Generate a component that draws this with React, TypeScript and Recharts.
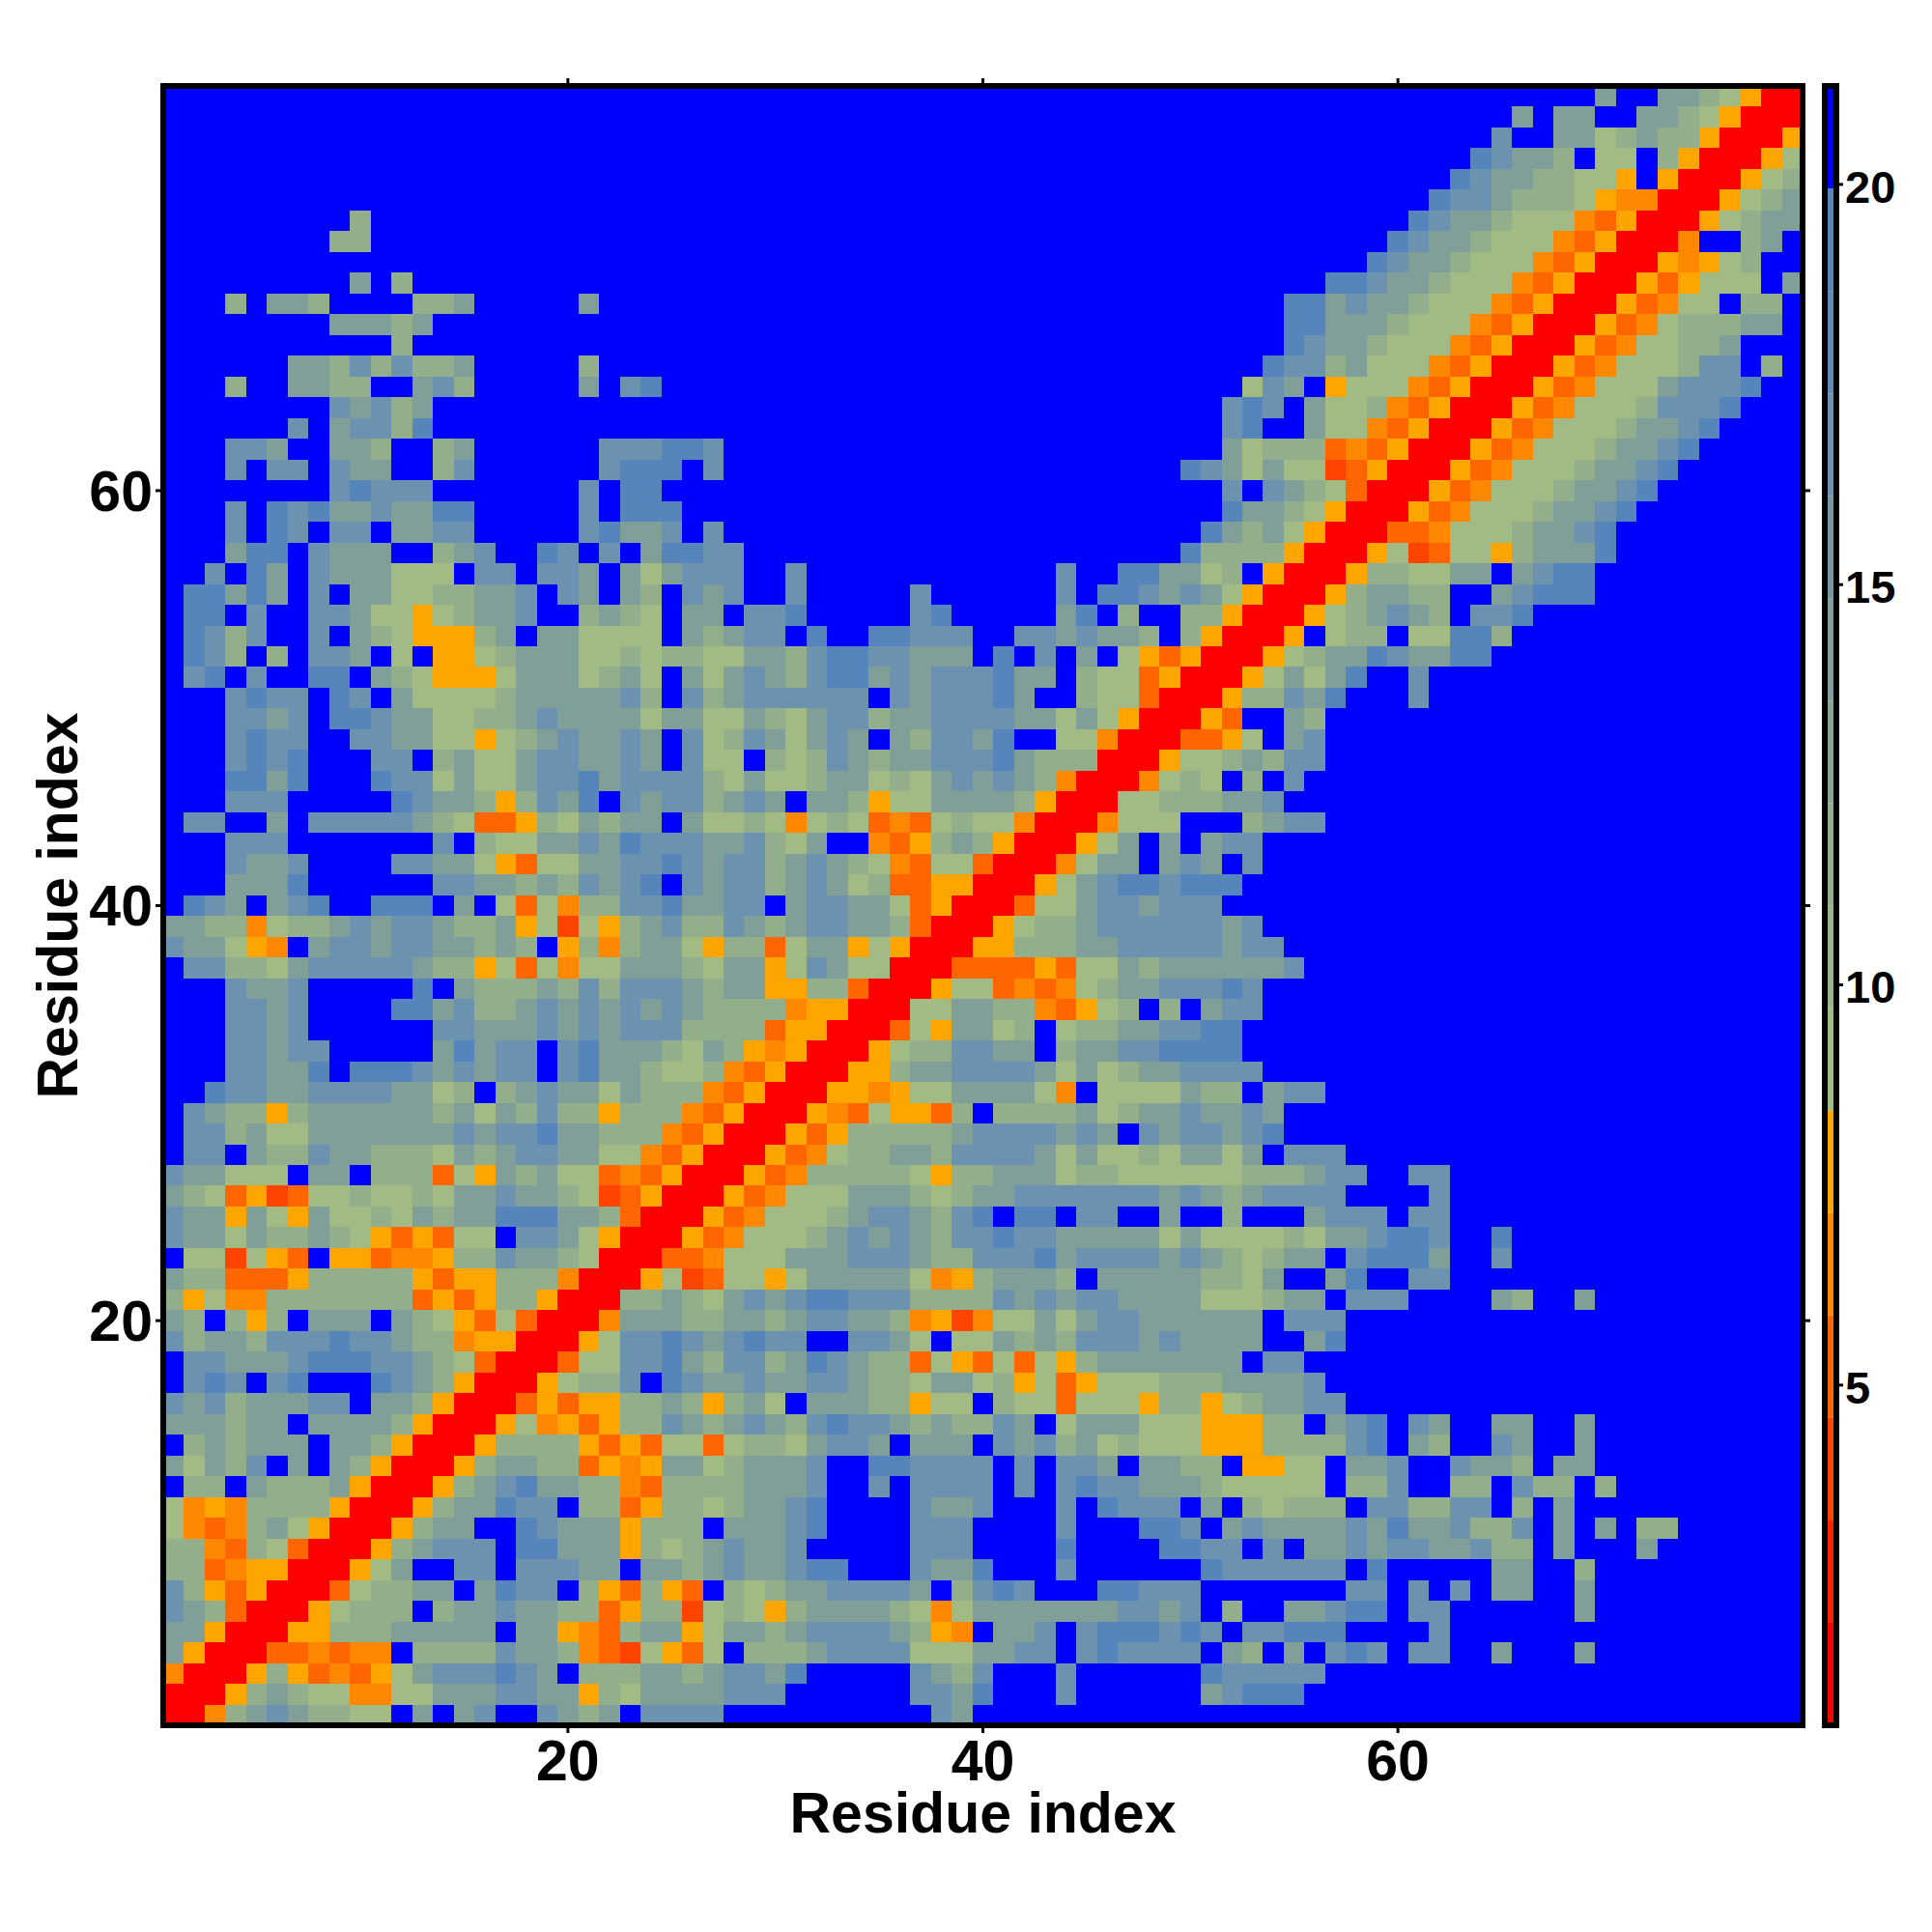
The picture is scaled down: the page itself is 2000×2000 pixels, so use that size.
import { Bar, BarChart, ReferenceArea, Scatter, ScatterChart, XAxis, YAxis } from 'recharts';

const FONT = '"Liberation Sans", Arial, sans-serif';

// one string per matrix row, residue 79 at the top down to residue 1
// '.' is out of range (blue), digits are distance classes, see codeValues
const rowsLeft = [
  '', '', '', '', '', '',
  '.........6',
  '........66',
  '',
  '.........7.6',
  '...6.776....667.....7',
  '........77767',
  '...........6',
  '......776868667.....6',
  '...6..7766..786.....7.89',
  '........87867',
  '......8.78869',
  '...887..776..67......88899',
  '...8.88.877..68......8999.',
  '........89888.......8.99',
  '...8.9897787799.....8.999.',
  '...8.98.88.7788.....89778.',
  '...799.8777..678..98.8.799',
  '..8.97.8777555.88.887.7578',
  '.99797.8.775566778.87.76.8',
  '.99.8..88755456778..6765.7',
  '.9868..8.76544467.775555.7',
  '.986.6.887.5.4456777556566',
  '.89.8..99.76544457775675.7',
  '...8988.98.7555567777786.8',
  '...8878.998775566787777577',
  '...8988..887755456787787.8',
  '...8989...88.67557887787.8',
  '...9979...9885755788978888',
  '...888.....9877646879.8788',
  '.88..7.88888765224657677.7',
  '...888.......8.65577879888',
  '...8778....887754255778898',
  '...7779......88776768789.8',
  '.987.789..999.7.5253668897',
  '77663566787887667451546786',
  '877543.78878877676.4636775',
  '.8866578888876645253557776',
  '...8778.....9.766676868887',
  '...8878....997866787878787',
  '...8878......8877787878886',
  '...88788.....79788.8977765',
  '...88779.999878788.8977655',
  '..9887788887756.6787757666',
  '.8766467777776757686646663',
  '.8867557777777878897766632',
  '.88.7668776665767887755324',
  '877555.77.6662547675523240',
  '76524125565565778776512400',
  '87747547556576779997762000',
  '8775766765424255.887540004',
  '.551542.442334668776500022',
  '76622246666642446663000451',
  '64533666666624246640006676',
  '76.646.777.765425200037776',
  '86776888988766344000458898',
  '.8877789998876520002558897',
  '.898.89...9876400045668.98',
  '878677788.7764000242446676',
  '777677.7777640004534246687',
  '.676777.776400046666424255',
  '75768.7.764000467766243477',
  '.66.7666740004678977663266',
  '5343666640004677988.662466',
  '532367540004677..987774666',
  '6632652000467888.997774656',
  '662344000457..88.88877.776',
  '86424000256677.7988.642642',
  '876200045666.6778776624661',
  '7740004466677777.774326774',
  '74000223233.66668776321542',
  '3000464232457888987.666776',
  '00046765533557778877465777',
  '00367876655.7.78..8767.888',
];

const rowsMiddle = [
  '', '', '', '', '', '', '', '', '', '', '', '', '', '', '',
  '.........................8',
  '.........................8',
  '8........................7',
  '8......................987',
  '.........................8',
  '.........................9',
  '8.......................97',
  '88.....................966',
  '88..8............8..997756',
  '78..8.....8......8.9987875',
  '7.889.....89.....79.6..664',
  '6788.9..99888..8878776.640',
  '5577689988777.9.8.7.542400',
  '57876899787888977.65524000',
  '67888888.8788897..65520004',
  '55765788677888877575400042',
  '56875787.768879..553000224',
  '55.65687677888976660004556',
  '6575567756578787630003565.',
  '6787.776455777764000556667',
  '55653565232565530003555...',
  '778657..3246764000457.7.78',
  '788678765325520003577.787.',
  '78867875622440004578998999',
  '788.788775240002557887888.',
  '68767887762000456678888887',
  '46625774540004466677888887',
  '57745875500022224255767777',
  '67744662000455232356778889',
  '666634400055776632456.6.78',
  '6662440002547756.566778899',
  '7643400045668877.677889999',
  '63240004467788887575677888',
  '324000443455777753.5555766',
  '2400043254426.666675677877',
  '40004246666678888787.87887',
  '00042356677688887575565775',
  '00423666665466777566555555',
  '04235557776567788888887876',
  '42355567887689.99.88..7..6',
  '23555678787688988777775755',
  '35557778887668889788887876',
  '255457777753467776.7777766',
  '57878998886666878788777755',
  '67767887763413557578877777',
  '78988..8875.55767688878777',
  '68867987662542525467777777',
  '77877887665775645245556667',
  '4675.77766455.655255546645',
  '6787689887676687.577755544',
  '256657887.777.878675655544',
  '567778..998888.8.887.7766.',
  '667778..8.8888.8.898877765',
  '567789....8778...8.9888.7.',
  '.77789....888....8...998.7',
  '78778.....888....9....9988',
  '7877899...8779...8......98',
  '.6567788887.6898...99888..',
  '565467777653577777778878.6',
  '5776788887643.778.8999898.',
  '5.666788885557788.898888.7',
  '78879.....8768...8......98',
  '7888......8879...8......78',
  '8..........87.............',
];

const rowsRight = [
  '.................7..7765400',
  '.............7.77..77654000',
  '............8..775676640004',
  '...........98776.55.6400045',
  '..........987766554.4000456',
  '.........988766654330004567',
  '........9877655532400045677',
  '.......987765553240003..67.',
  '......9877655532400043456..',
  '....998776555324000424555.7',
  '..997877655532400042355.66.',
  '..997776555324000423566677.',
  '..9877655532400042355667...',
  '.98867555324000423555688.6.',
  '587.455532400042355578889..',
  '98.755632400042355568889...',
  '9..75532400042355567789....',
  '5666232400042355567789.....',
  '575512400042355567789......',
  '.8765200042355567789.......',
  '7765400042355567789........',
  '675400022355567789.........',
  '664000451255467779.........',
  '.40004665577.7899..........',
  '4000467766..78999..........',
  '0004567876.889.............',
  '004.566.55996..............',
  '045677987799...............',
  '457579..8..................',
  '66879...8..................',
  '..76',
  '5.78',
  '7688',
  '6.8',
  '78',
  '6788',
  '8',
  '8',
  '',
  '',
  '8',
  '88',
  '778',
  '8',
  '8',
  '',
  '',
  '8',
  '.788',
  '87',
  '89',
  '7.888',
  '666788..88',
  '78888....8',
  '...7888.88',
  '5565778998..9',
  '5677.89997..8',
  '57..79..88',
  '5677.888....76..7',
  '7.888',
  '7..79',
  '.88',
  '7778',
  '67788',
  '466.789.87..77..7',
  '4666689.76..87..7',
  '4455.778..8776.77',
  '5555.668..66.866.6',
  '65666.886688.6.7',
  '87777879778668.7.7.66',
  '.8.77878877866.7...7',
  '88888.9.....77..6',
  '.....88.8.8.77..7',
  '..77899.88......7',
  '88999....8',
  '6.7.898.88..7...7',
  '8888',
  '999',
  '',
];

const residueCount = 79;
const mainTicks = [20, 40, 60];
const barTicks = [5, 10, 15, 20];

// colour bar classes, lowest distance first
const barColors = [
  '#ff0000', '#ff2200', '#ff4400', '#ff6600', '#ff8800', '#ffa500',
  '#a2ba84', '#9ab587', '#92ae8b', '#88a691', '#7f9f98', '#7598a2',
  '#6b92ae', '#6089b5', '#5585bb', '#0000ff',
];
const barMin = 0.75;
const barStep = 1.28;
const barMax = barMin + barStep * barColors.length;

// distance read for each code in the strings above
const codeValues: Record<string, number> = {
  '0': 1.4, '1': 3.9, '2': 5.2, '3': 6.5, '4': 7.8, '5': 9.7,
  '6': 11.6, '7': 13.9, '8': 16.5, '9': 19.0, '.': 20.6,
};

const colorOf = (d: number) => barColors[Math.min(barColors.length - 1, Math.floor((d - barMin) / barStep))];

const cells = rowsLeft.flatMap((_, i) => {
  const row = rowsLeft[i].padEnd(26, '.') + rowsMiddle[i].padEnd(26, '.') + rowsRight[i].padEnd(27, '.');
  return Array.from(row).map((code, c) => ({ x: c + 1, y: residueCount - i, d: codeValues[code] }));
});

// stacked segments of the colour bar, the first one starts at the axis minimum
const barRow: Record<string, number> = {};
barColors.forEach((_, i) => {
  barRow['c' + i] = i === 0 ? barMin + barStep : barStep;
});

const W = 2000;
const plot = { left: 169, right: 1866, top: 89, bottom: 1786 };
const cellW = (plot.right - plot.left) / residueCount;
const cellH = (plot.bottom - plot.top) / residueCount;

const HeatCell = (p: any) => (
  <rect
    x={p.cx - cellW / 2}
    y={p.cy - cellH / 2}
    width={cellW + 0.5}
    height={cellH + 0.5}
    fill={colorOf(p.payload.d)}
    shapeRendering="crispEdges"
  />
);

const bigTick = { fontFamily: FONT, fontWeight: 700, fontSize: 59, fill: '#000' };
const smallTick = { fontFamily: FONT, fontWeight: 700, fontSize: 47, fill: '#000', dy: 2 };
const tickMark = { stroke: '#000', strokeWidth: 3 };
const blank = () => '';
const noShape = () => <g />;

export default function App() {
  return (
    <div style={{ position: 'absolute', left: 0, top: 0, width: W, height: W, background: '#fff' }}>
      <div style={{ position: 'absolute', left: 0, top: 0 }}>
        <ScatterChart width={W} height={W} margin={{ top: 0, right: 0, bottom: 0, left: 0 }}>
          <XAxis
            dataKey="x"
            type="number"
            domain={[0.5, 79.5]}
            ticks={mainTicks}
            height={W - plot.bottom}
            axisLine={false}
            tickLine={tickMark}
            tickSize={8}
            tickMargin={7}
            tick={bigTick}
            interval={0}
            label={{ value: 'Residue index', position: 'insideTop', offset: 69, style: { ...bigTick, textAnchor: 'middle' } }}
          />
          <XAxis
            xAxisId="top"
            dataKey="x"
            orientation="top"
            type="number"
            domain={[0.5, 79.5]}
            ticks={mainTicks}
            height={plot.top}
            axisLine={false}
            tickLine={tickMark}
            tickSize={8}
            tick={{ fontSize: 1 }}
            tickFormatter={blank}
            interval={0}
          />
          <YAxis
            dataKey="y"
            type="number"
            domain={[0.5, 79.5]}
            ticks={mainTicks}
            width={plot.left}
            axisLine={false}
            tickLine={tickMark}
            tickSize={8}
            tickMargin={3}
            tick={bigTick}
            interval={0}
            label={{ value: 'Residue index', angle: -90, position: 'insideLeft', offset: 59, style: { ...bigTick, textAnchor: 'middle' } }}
          />
          <YAxis
            yAxisId="right"
            dataKey="y"
            orientation="right"
            type="number"
            domain={[0.5, 79.5]}
            ticks={mainTicks}
            width={W - plot.right}
            axisLine={false}
            tickLine={tickMark}
            tickSize={8}
            tick={{ fontSize: 1 }}
            tickFormatter={blank}
            interval={0}
          />
          <Scatter data={cells} shape={HeatCell} isAnimationActive={false} />
          <Scatter data={cells.slice(0, 1)} xAxisId="top" yAxisId="right" shape={noShape} isAnimationActive={false} />
          <ReferenceArea {...({ zIndex: 2000 } as any)} x1={0.5} x2={79.5} y1={0.5} y2={79.5} fill="none" fillOpacity={0} stroke="#000" strokeWidth={6} />
        </ScatterChart>
      </div>
      <div style={{ position: 'absolute', left: 1868, top: 0 }}>
        <BarChart
          width={W - 1868}
          height={W}
          data={[barRow]}
          barCategoryGap={0}
          margin={{ top: plot.top, right: 0, bottom: W - plot.bottom, left: 21 }}
        >
          <XAxis hide />
          <YAxis
            orientation="right"
            type="number"
            domain={[barMin, barMax]}
            ticks={barTicks}
            width={W - 1901}
            allowDataOverflow
            axisLine={false}
            tickLine={tickMark}
            tickSize={7}
            tickMargin={2}
            tick={smallTick}
            interval={0}
          />
          {barColors.map((color, i) => (
            <Bar key={color} dataKey={'c' + i} stackId="bar" fill={color} isAnimationActive={false} />
          ))}
          <ReferenceArea {...({ zIndex: 2000 } as any)} y1={barMin} y2={barMax} fill="none" fillOpacity={0} stroke="#000" strokeWidth={6} />
        </BarChart>
      </div>
    </div>
  );
}
